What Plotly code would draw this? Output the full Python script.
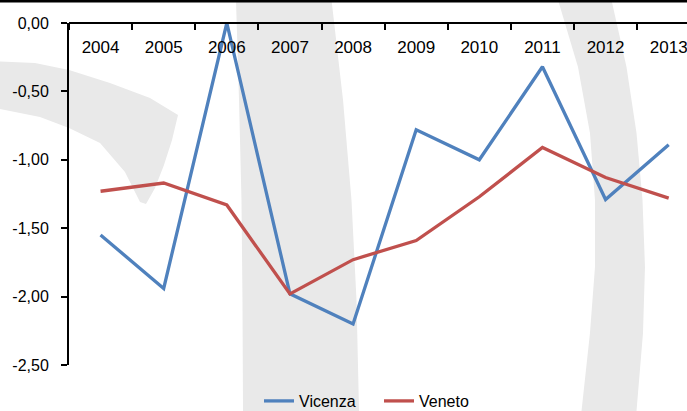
import plotly.graph_objects as go

years = ["2004", "2005", "2006", "2007", "2008", "2009", "2010", "2011", "2012", "2013"]
vicenza = [-1.55, -1.94, 0.00, -1.98, -2.20, -0.78, -1.00, -0.32, -1.29, -0.89]
veneto = [-1.23, -1.17, -1.33, -1.98, -1.73, -1.59, -1.27, -0.91, -1.13, -1.28]
y_ticks = [0, -0.5, -1.0, -1.5, -2.0, -2.5]
y_tick_labels = ["0,00", "-0,50", "-1,00", "-1,50", "-2,00", "-2,50"]

W, H = 687, 411
L, T, R, B = 69, 23, 0, 46
PW, PH = W - L - R, H - T - B
FONT = "Liberation Sans, Arial, sans-serif"
GRAY = "#e9e9e9"


def px(x):
    return (x - L) / PW


def py(y):
    return (H - B - y) / PH


def path(pts):
    return "M " + " L ".join(f"{px(x):.4f},{py(y):.4f}" for x, y in pts) + " Z"


# decorative watermark (pixel outlines)
band = [(236, 0), (239, 100), (241.5, 200), (242.5, 300), (243, 411),
        (359, 411), (356.5, 300), (351.5, 200), (343, 100), (331.5, 0)]
crescent = [(558, 0), (578, 67), (590, 133), (595, 200), (595, 267), (590, 333), (581.5, 411),
            (636.5, 411), (643, 333), (645, 267), (642.5, 200), (636.5, 133), (626.5, 67), (611.5, 0)]
wedge = [(0, 61.5), (35, 63), (69, 70), (110, 83), (150, 98), (178, 115),
         (172, 140), (164, 165), (155, 188), (146, 204), (140, 202),
         (125, 172), (100, 143), (69, 128), (40, 117), (0, 109)]

shapes = [
    dict(type="path", path=path(p), xref="paper", yref="paper",
         fillcolor=GRAY, line=dict(width=0), layer="below")
    for p in (band, crescent, wedge)
]
shapes.append(dict(type="rect", xref="paper", yref="paper",
                   x0=px(0), x1=px(W), y0=py(0), y1=py(2.5),
                   fillcolor="black", line=dict(width=0), layer="above"))

fig = go.Figure()
fig.add_trace(go.Scatter(x=years, y=vicenza, mode="lines", name="Vicenza",
                         line=dict(color="#4F81BD", width=3.3)))
fig.add_trace(go.Scatter(x=years, y=veneto, mode="lines", name="Veneto",
                         line=dict(color="#C0504D", width=3.3)))

fig.update_layout(
    width=W, height=H,
    margin=dict(l=L, r=R, t=T, b=B, pad=0, autoexpand=False),
    paper_bgcolor="white", plot_bgcolor="rgba(0,0,0,0)",
    font=dict(family=FONT, color="black", size=16),
    shapes=shapes,
    showlegend=True,
    legend=dict(orientation="h", xref="container", yref="container",
                x=259 / W, y=1 - 401 / H, xanchor="left", yanchor="middle",
                font=dict(size=16), bgcolor="rgba(0,0,0,0)", itemwidth=30,
                entrywidth=75, entrywidthmode="pixels", tracegroupgap=0),
)
fig.update_xaxes(type="category", side="bottom", anchor="free", position=1,
                 range=[-0.5, 9.29], automargin=False,
                 showline=True, linecolor="black", linewidth=2,
                 ticks="outside", ticklen=6, tickwidth=1.5, tickcolor="black",
                 tickson="boundaries", ticklabelstandoff=9,
                 tickfont=dict(size=17, family=FONT), showgrid=False, zeroline=False)
fig.update_yaxes(range=[-2.5, 0], tickvals=y_ticks, ticktext=y_tick_labels,
                 automargin=False,
                 showline=True, linecolor="black", linewidth=2,
                 ticks="outside", ticklen=6, tickwidth=1.5, tickcolor="black",
                 tickfont=dict(size=16, family=FONT), showgrid=False, zeroline=False,
                 ticklabelstandoff=9)

fig.write_html("out.html", config={"displayModeBar": False},
               post_script="document.body.style.margin='0';document.body.style.overflow='hidden';")
